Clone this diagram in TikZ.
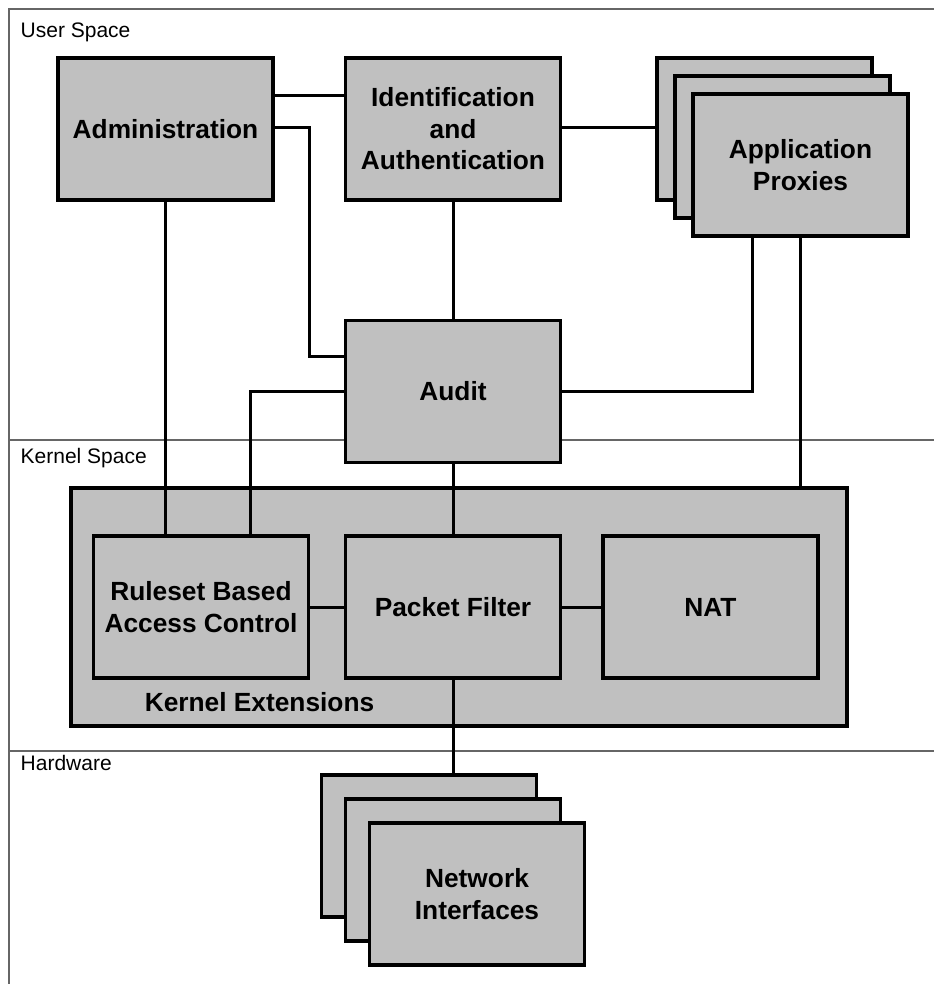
\documentclass[tikz,border=0pt]{standalone}
\usepackage{fontspec}
\setmainfont{Liberation Sans}
\definecolor{boxfill}{HTML}{C0C0C0}
\definecolor{framegray}{HTML}{666666}
\tikzset{
  blk/.style={draw=black, fill=boxfill, line width=3.3pt, minimum width=215pt,
    minimum height=142pt, inner sep=0pt, align=center,
    font=\bfseries\fontsize{26.3}{31.5}\selectfont},
  boldlabel/.style={inner sep=0pt, anchor=base, font=\bfseries\fontsize{26.3}{31.5}\selectfont},
  wire/.style={draw=black, line width=3pt},
  frameline/.style={draw=framegray, line width=1.3pt},
  lane/.style={font=\fontsize{21}{24}\selectfont, anchor=base west, inner sep=0pt}
}
\begin{document}
\begin{tikzpicture}[x=1pt,y=-1pt]
\useasboundingbox (0,0) rectangle (934,984);

% layer frame and dividers
\draw[frameline] (9,984) -- (9,9) -- (934,9);
\draw[frameline] (9,440) -- (934,440);
\draw[frameline] (9,751) -- (934,751);

\node[lane] (us) at (20.5,38) {User Space};
\node[lane] (ks) at (20.5,463) {Kernel Space};
\node[lane] (hw) at (20.5,770) {Hardware};

% user space components
\node[blk] (adm) at (165.5,129) {Administration};
\node[blk] (ida) at (453,129) {Identification\\and\\Authentication};
\node[blk] (ap3) at (764.5,129) {};
\node[blk] (ap2) at (782.5,147) {};
\node[blk] (ap) at (800.5,165) {Application\\Proxies};
\node[blk] (aud) at (453,391.5) {Audit};

% kernel extensions
\node[blk, minimum width=776pt, minimum height=238pt] (kex) at (459,607) {};
\node[boldlabel] (kextxt) at (259.5,711) {Kernel Extensions};
\node[blk] (rbac) at (201,607) {Ruleset Based\\Access Control};
\node[blk] (pf) at (453,607) {Packet Filter};
\node[blk] (nat) at (710.5,607) {NAT};

% hardware
\node[blk] (ni3) at (429,846) {};
\node[blk] (ni2) at (453,870) {};
\node[blk] (ni) at (477,894) {Network\\Interfaces};

% connectors
\draw[wire] (adm.east |- 0,96) -- (ida.west |- 0,96);
\draw[wire] (adm.east |- 0,128) -- (309,128) -- (309,356) -- (aud.west |- 0,356);
\draw[wire] (ida.east |- 0,128) -- (ap3.west |- 0,128);
\draw[wire] (ida.south) -- (aud.north);
\draw[wire] (adm.south) -- (adm.south |- rbac.north);
\draw[wire] (aud.west) -- (250,391.5) -- (rbac.north -| 250,0);
\draw[wire] (aud.east) -- (752,391.5) -- (ap.south -| 752,0);
\draw[wire] (ap.south) -- (ap.south |- kex.north);
\draw[wire] (aud.south) -- (pf.north);
\draw[wire] (rbac.east) -- (pf.west);
\draw[wire] (pf.east) -- (nat.west);
\draw[wire] (pf.south) -- (pf.south |- ni3.north);
\end{tikzpicture}
\end{document}
